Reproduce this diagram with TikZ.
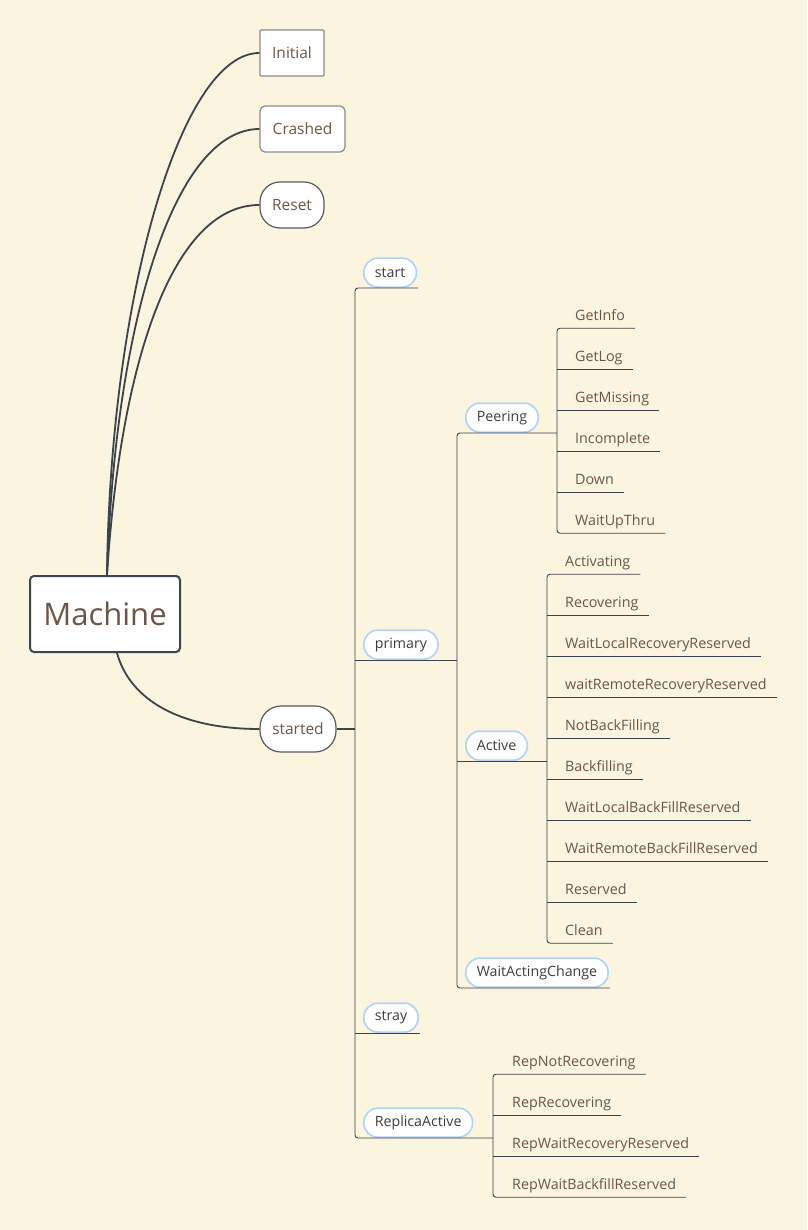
\documentclass[tikz,border=0pt]{standalone}
\usepackage{fontspec}
\setmainfont{Open Sans}
\definecolor{bg}{HTML}{FBF4DE}
\definecolor{linec}{HTML}{3D434A}
\definecolor{txtbrown}{HTML}{6B5748}
\definecolor{pilltext}{HTML}{3E3E3E}
\definecolor{pillblue}{HTML}{B5D3F5}
\definecolor{grayb}{HTML}{8C8C8C}
\definecolor{darkb}{HTML}{5A5A5A}
\definecolor{machb}{HTML}{3B4650}
\tikzset{
  topbox/.style={fill=white, line width=1.2pt, text=txtbrown, minimum height=46pt, inner sep=0pt, font=\fontsize{15.5}{18}\selectfont},
  leaf/.style={anchor=base west, inner sep=0pt, text depth=8pt, text=txtbrown, font=\fontsize{14.3}{17}\selectfont},
  pill/.style={anchor=south west, draw=pillblue, line width=1.7pt, fill=white, rounded corners=14pt, minimum height=29pt, inner xsep=11pt, inner ysep=0pt, text=pilltext, font=\fontsize{14.2}{17}\selectfont},
  branch/.style={draw=linec, line width=0.9pt, rounded corners=3pt},
  curve/.style={draw=linec, line width=1.8pt},
}
\begin{document}
\begin{tikzpicture}[x=1pt,y=-1pt]
\fill[bg] (0,0) rectangle (807,1230);
\useasboundingbox (0,0) rectangle (807,1230);

% top level
\node[topbox, draw=machb, line width=2pt, rounded corners=4pt, minimum width=150pt, minimum height=76pt, font=\fontsize{31}{36}\selectfont] (m) at (105,614) {Machine};
\node[topbox, draw=grayb, rounded corners=1pt, minimum width=64pt] (init) at (292,53) {Initial};
\node[topbox, draw=grayb, rounded corners=5pt, minimum width=85pt] (crash) at (302.5,129) {Crashed};
\node[topbox, draw=darkb, rounded corners=20pt, minimum width=64pt] (reset) at (292,205) {Reset};
\node[topbox, draw=darkb, rounded corners=21pt, minimum width=76pt] (started) at (298,729) {started};

\draw[curve] ([xshift=2pt]m.north) .. controls (110,300) and (180,53) .. (init.west);
\draw[curve] ([xshift=2pt]m.north) .. controls (115,320) and (175,129) .. (crash.west);
\draw[curve] ([xshift=2pt]m.north) .. controls (120,370) and (170,205) .. (reset.west);
\draw[curve] ([xshift=12pt]m.south) .. controls (130,700) and (180,729) .. (started.west);

% trunk coordinates
\coordinate (tA) at (355,728);
\coordinate (tPr) at (457,660);
\coordinate (tPeer) at (557,433);
\coordinate (tAct) at (547,761);
\coordinate (tR) at (493,1138);

% second level pills
\node[pill] (start) at (363,288) {start};
\node[pill] (primary) at (363,660) {primary};
\node[pill] (stray) at (363,1033) {stray};
\node[pill] (ra) at (363,1138) {ReplicaActive};
\node[pill] (peering) at (465,433) {Peering};
\node[pill] (active) at (465,761) {Active};
\node[pill] (wac) at (465,988) {WaitActingChange};

% leaves
\foreach \n/\t/\y in {gi/GetInfo/320, gl/GetLog/361, gm/GetMissing/402, inc/Incomplete/443, down/Down/484, wut/WaitUpThru/525}
  \node[leaf] (\n) at (575,\y) {\t};
\foreach \n/\t/\y in {act/Activating/566, rec/Recovering/607, wlrr/WaitLocalRecoveryReserved/648, wrrr/waitRemoteRecoveryReserved/689, nbf/NotBackFilling/730, bf/Backfilling/771, wlbr/WaitLocalBackFillReserved/812, wrbr/WaitRemoteBackFillReserved/853, res/Reserved/894, clean/Clean/935}
  \node[leaf] (\n) at (565,\y) {\t};
\foreach \n/\t/\y in {rnr/RepNotRecovering/1066, rr/RepRecovering/1107, rwrr/RepWaitRecoveryReserved/1148, rwbr/RepWaitBackfillReserved/1189}
  \node[leaf] (\n) at (512,\y) {\t};

% connectors
\draw[draw=linec, line width=2pt] (started.east) -- (started.east -| tA);
\draw[branch] ([xshift=1pt]start.south east) -- (start.south -| tA) -- (ra.south -| tA) -- (ra.south -| tR);
\draw[branch] (primary.south -| tA) -- (primary.south -| tPr);
\draw[branch] (stray.south -| tA) -- ([xshift=1pt]stray.south east);

\draw[branch] (peering.south -| tPeer) -- (peering.south -| tPr) -- (wac.south -| tPr) -- ([xshift=1pt]wac.south east);
\draw[branch] (active.south -| tPr) -- (active.south -| tAct);

\draw[branch] ([xshift=10pt]gi.south east) -- (gi.south -| tPeer) -- (wut.south -| tPeer) -- ([xshift=10pt]wut.south east);
\foreach \n in {gl,gm,inc,down}
  \draw[branch] (\n.south -| tPeer) -- ([xshift=10pt]\n.south east);

\draw[branch] ([xshift=10pt]act.south east) -- (act.south -| tAct) -- (clean.south -| tAct) -- ([xshift=10pt]clean.south east);
\foreach \n in {rec,wlrr,wrrr,nbf,bf,wlbr,wrbr,res}
  \draw[branch] (\n.south -| tAct) -- ([xshift=10pt]\n.south east);

\draw[branch] ([xshift=10pt]rnr.south east) -- (rnr.south -| tR) -- (rwbr.south -| tR) -- ([xshift=10pt]rwbr.south east);
\foreach \n in {rr,rwrr}
  \draw[branch] (\n.south -| tR) -- ([xshift=10pt]\n.south east);
\end{tikzpicture}
\end{document}
